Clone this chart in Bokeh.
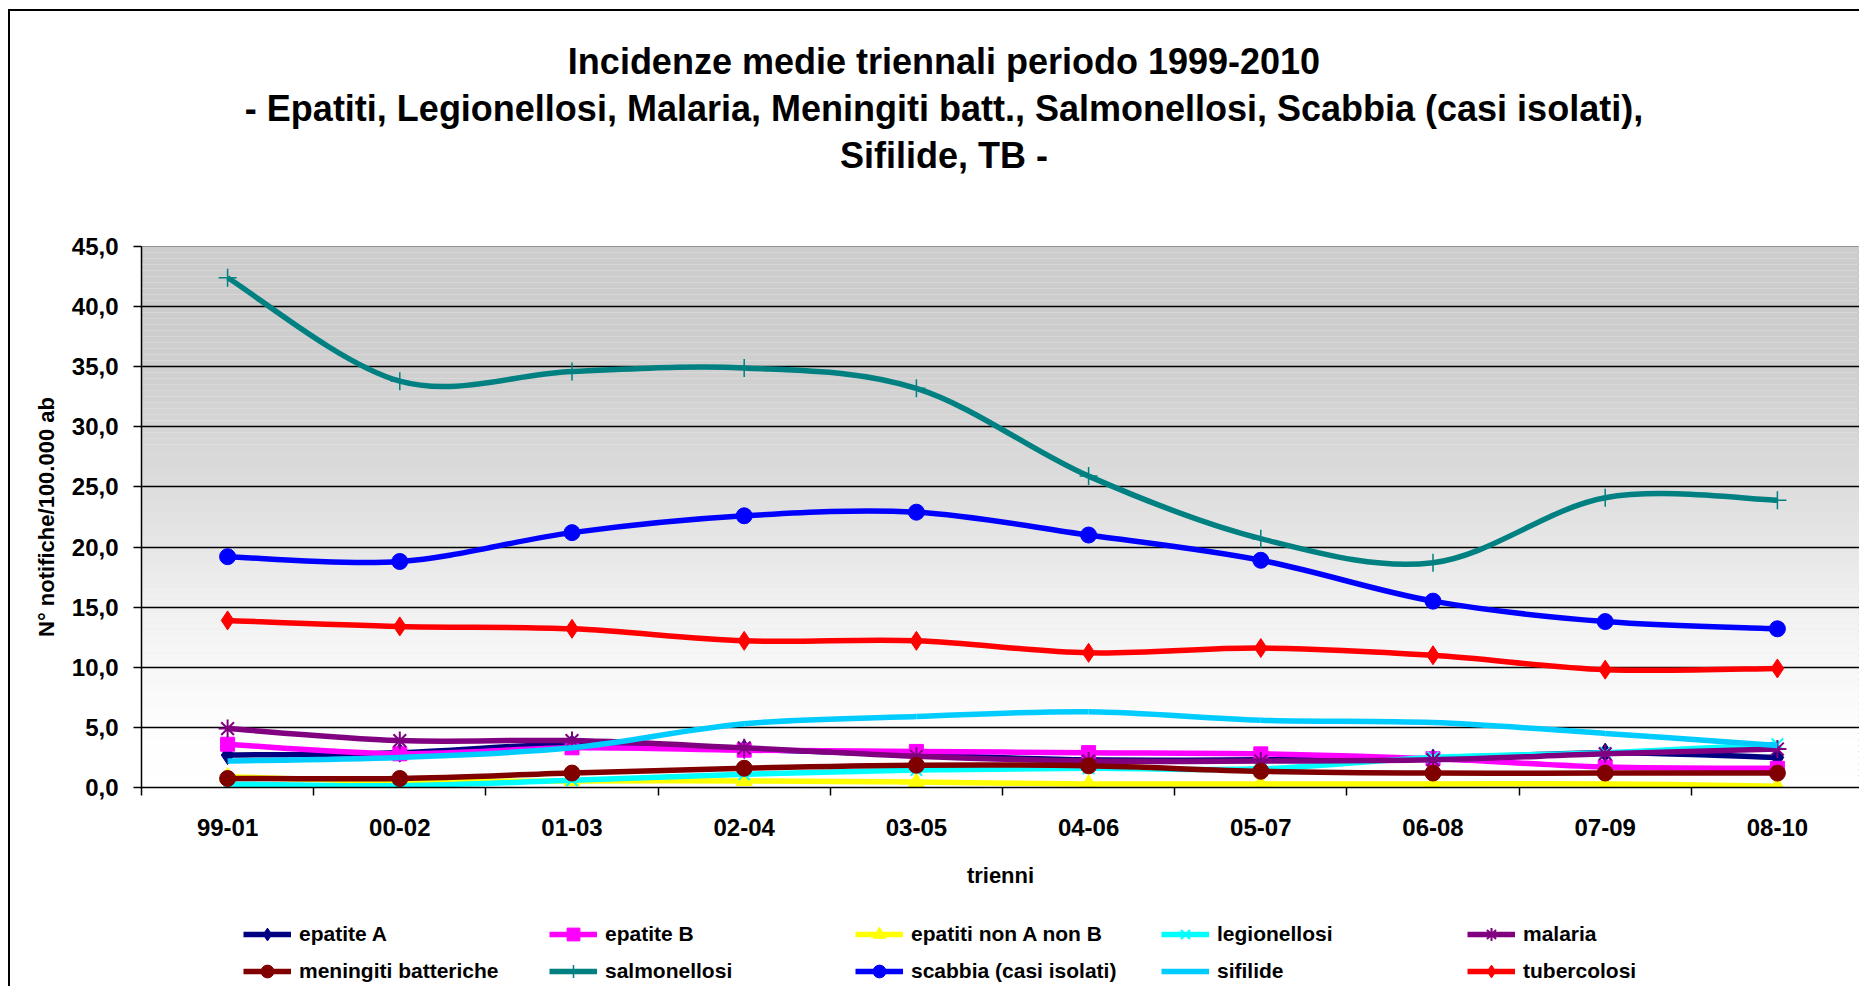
import numpy as np
from bokeh.plotting import figure
from bokeh.layouts import column
from bokeh.models import FixedTicker, Legend, LegendItem, Range1d, Title
from bokeh.embed import file_html
from bokeh.resources import INLINE

# ---------------- data ----------------
periods = ["99-01", "00-02", "01-03", "02-04", "03-05", "04-06", "05-07", "06-08", "07-09", "08-10"]

epatite_A = [2.7, 2.9, 3.6, 3.2, 2.7, 2.3, 2.3, 2.4, 2.9, 2.5]
epatite_B = [3.6, 2.8, 3.3, 3.1, 3.0, 2.9, 2.8, 2.4, 1.7, 1.6]
epatiti_nonA_nonB = [0.9, 0.5, 0.55, 0.55, 0.45, 0.3, 0.3, 0.3, 0.3, 0.1]
legionellosi = [0.3, 0.15, 0.6, 1.1, 1.45, 1.6, 1.55, 2.5, 2.9, 3.6]
malaria = [4.9, 3.9, 3.9, 3.3, 2.6, 2.2, 2.2, 2.3, 2.8, 3.2]
meningiti_batteriche = [0.75, 0.75, 1.2, 1.6, 1.85, 1.8, 1.35, 1.2, 1.2, 1.2]
salmonellosi = [42.4, 33.8, 34.6, 34.9, 33.2, 25.9, 20.7, 18.7, 24.1, 23.9]
scabbia = [19.2, 18.8, 21.2, 22.6, 22.9, 21.0, 18.9, 15.5, 13.8, 13.2]
sifilide = [2.2, 2.5, 3.3, 5.3, 5.9, 6.3, 5.6, 5.4, 4.5, 3.5]
tubercolosi = [13.9, 13.4, 13.2, 12.2, 12.2, 11.2, 11.6, 11.0, 9.8, 9.9]

y_ticks = [0, 5, 10, 15, 20, 25, 30, 35, 40, 45]
y_tick_labels = ["0,0", "5,0", "10,0", "15,0", "20,0", "25,0", "30,0", "35,0", "40,0", "45,0"]

series_names = ["epatite A", "epatite B", "epatiti non A non B", "legionellosi", "malaria",
                "meningiti batteriche", "salmonellosi", "scabbia (casi isolati)", "sifilide", "tubercolosi"]
series_values = [epatite_A, epatite_B, epatiti_nonA_nonB, legionellosi, malaria,
                 meningiti_batteriche, salmonellosi, scabbia, sifilide, tubercolosi]

title_lines = ["Incidenze medie triennali periodo 1999-2010",
               "- Epatiti, Legionellosi, Malaria, Meningiti batt., Salmonellosi, Scabbia (casi isolati),",
               "Sifilide, TB -"]

# ---------------- styles ----------------
styles = [
    dict(color="#000080", marker="diamond", size=19, lw=1),
    dict(color="#FF00FF", marker="square", size=14, lw=1),
    dict(color="#FFFF00", marker="triangle", size=16, lw=1),
    dict(color="#00FFFF", marker="x", size=16, lw=2),
    dict(color="#800080", marker="asterisk", size=18, lw=2),
    dict(color="#800000", marker="circle", size=16, lw=1),
    dict(color="#008080", marker="cross", size=18, lw=1.5),
    dict(color="#0000FF", marker="circle", size=16, lw=1),
    dict(color="#00CCFF", marker=None, size=0, lw=1),
    dict(color="#FF0000", marker="diamond", size=19, lw=1),
]

FONT = "Liberation Sans"
W = 1849
LEFT = 131
PX_PER_CAT = 172.2
X_END = -0.5 + (W - LEFT) / PX_PER_CAT
LINE_W = 5.5

# ---------------- title strip ----------------
pt = figure(width=W, height=205, output_backend="svg", toolbar_location=None,
            x_range=Range1d(0, 1), y_range=Range1d(0, 1), x_axis_type=None, y_axis_type=None,
            min_border_left=18, min_border_right=0, min_border_top=166, min_border_bottom=0)
pt.frame_align = False
pt.outline_line_color = None
pt.background_fill_color = "white"
pt.border_fill_color = "white"
pt.title.visible = False
for line in reversed(title_lines):
    pt.add_layout(Title(text=line, align="center", text_font=FONT, text_font_size="36px",
                        text_font_style="bold", text_color="black", standoff=4), "above")

# ---------------- main chart ----------------
p = figure(width=W, height=694, output_backend="svg", toolbar_location=None,
           x_range=Range1d(-0.5, X_END), y_range=Range1d(0, 45),
           min_border_left=LEFT, min_border_right=0, min_border_top=30, min_border_bottom=123)
p.title.visible = False
p.background_fill_color = "white"
p.border_fill_color = "white"
p.outline_line_color = "#808080"
p.outline_line_width = 1

# gradient background (decoration)
stops_y = [0, 5, 10, 15, 20, 25, 30, 35, 40, 45]
stops_v = [255, 253, 247, 240, 231, 221, 213, 207, 204, 204]
edges = np.linspace(0, 45, 91)
mids = (edges[:-1] + edges[1:]) / 2
gv = np.interp(mids, stops_y, stops_v).round().astype(int)
cols = ["#%02x%02x%02x" % (v, v, v) for v in gv]
bg = p.quad(left=-0.5, right=X_END, bottom=edges[:-1], top=edges[1:], fill_color=cols, line_color=None)
bg.level = "image"

p.xgrid.visible = False
p.ygrid.ticker = FixedTicker(ticks=y_ticks)
p.ygrid.grid_line_color = "black"
p.ygrid.grid_line_width = 1.5

xs = list(range(len(periods)))
p.xaxis.ticker = FixedTicker(ticks=xs, minor_ticks=[i - 0.5 for i in range(len(periods) + 1)])
p.xaxis.major_label_overrides = {i: lab for i, lab in enumerate(periods)}
p.xaxis.major_tick_out = 0
p.xaxis.major_tick_in = 0
p.xaxis.minor_tick_out = 8
p.xaxis.minor_tick_in = 0
p.xaxis.minor_tick_line_color = "black"
p.xaxis.minor_tick_line_width = 1.5
p.xaxis.major_label_standoff = 23
p.xaxis.axis_label = "trienni"
p.xaxis.axis_label_standoff = 24

p.yaxis.ticker = FixedTicker(ticks=y_ticks)
p.yaxis.major_label_overrides = dict(zip(y_ticks, y_tick_labels))
p.yaxis.major_tick_out = 8
p.yaxis.major_tick_in = 0
p.yaxis.minor_tick_out = 0
p.yaxis.minor_tick_in = 0
p.yaxis.major_label_standoff = 15
p.yaxis.axis_label = "N° notifiche/100.000 ab"
p.yaxis.axis_label_standoff = 10

for ax in (p.xaxis, p.yaxis):
    ax.axis_line_color = "black"
    ax.axis_line_width = 1.5
    ax.major_tick_line_color = "black"
    ax.major_tick_line_width = 1.5
    ax.major_label_text_font = FONT
    ax.major_label_text_font_size = "24px"
    ax.major_label_text_font_style = "bold"
    ax.major_label_text_color = "black"
    ax.axis_label_text_font = FONT
    ax.axis_label_text_font_size = "22px"
    ax.axis_label_text_font_style = "bold"
    ax.axis_label_text_color = "black"

# ---------------- legend strip ----------------
# its ranges are chosen so that its swatch renderers stay out of view; only the legend shows
pl = figure(width=W, height=76, output_backend="svg", toolbar_location=None,
            x_range=Range1d(-0.5, X_END), y_range=Range1d(1000, 1001),
            x_axis_type=None, y_axis_type=None, min_border=0)
pl.frame_align = False
pl.outline_line_color = None
pl.background_fill_color = "white"
pl.border_fill_color = "white"
pl.title.visible = False


def smooth_segments(xv, yv):
    """Bezier control points (Catmull-Rom) so the drawn line passes through every data point."""
    x = np.array(xv, dtype=float)
    y = np.array(yv, dtype=float)
    n = len(x)
    xp = np.concatenate([[x[0]], x, [x[-1]]])
    yp = np.concatenate([[y[0]], y, [y[-1]]])
    return dict(x0=x[:-1], y0=y[:-1], x1=x[1:], y1=y[1:],
                cx0=x[:-1] + (xp[2:n + 1] - xp[0:n - 1]) / 6,
                cy0=y[:-1] + (yp[2:n + 1] - yp[0:n - 1]) / 6,
                cx1=x[1:] - (xp[3:n + 2] - xp[1:n]) / 6,
                cy1=y[1:] - (yp[3:n + 2] - yp[1:n]) / 6)


items = []
for name, vals_, st in zip(series_names, series_values, styles):
    p.bezier(**smooth_segments(xs, vals_), line_color=st["color"], line_width=LINE_W)
    if st["marker"]:
        p.scatter(x=xs, y=vals_, marker=st["marker"], size=st["size"],
                  fill_color=st["color"], line_color=st["color"], line_width=st["lw"])
    rends = [pl.line(x=xs, y=vals_, line_color=st["color"], line_width=LINE_W)]
    if st["marker"]:
        rends.append(pl.scatter(x=xs, y=vals_, marker=st["marker"], size=st["size"] - 2,
                                fill_color=st["color"], line_color=st["color"], line_width=st["lw"]))
    items.append(LegendItem(label=name, renderers=rends))

legend = Legend(items=items, ncols=5, orientation="horizontal", location=(233, -1),
                glyph_width=48, glyph_height=32, label_width=245, label_height=32,
                label_standoff=8, spacing=5, padding=0, margin=0,
                label_text_font=FONT, label_text_font_size="21px", label_text_font_style="bold",
                label_text_color="black", border_line_alpha=0, background_fill_alpha=0)
pl.add_layout(legend, "center")

layout = column(pt, p, pl, spacing=0,
                styles={"border-left": "2px solid black", "border-top": "2px solid black",
                        "margin-left": "8px", "margin-top": "9px"})

open("out.html", "w").write(file_html(layout, INLINE))
